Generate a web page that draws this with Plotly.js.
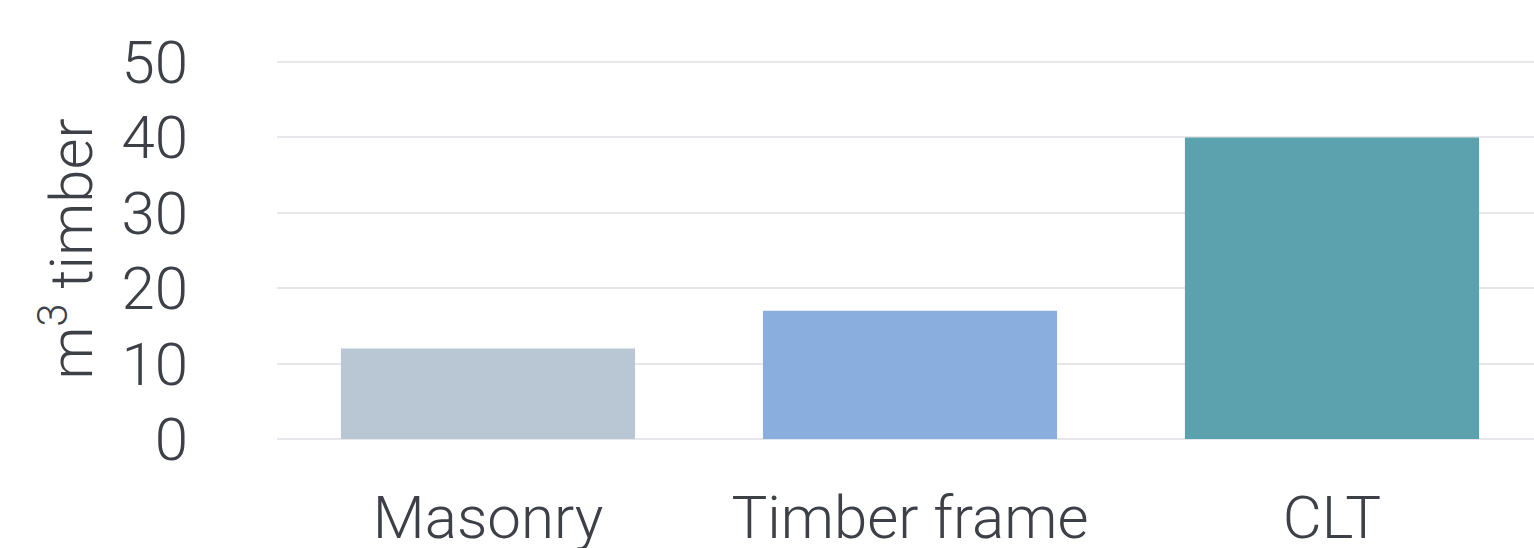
<!DOCTYPE html>
<html>
<head>
<meta charset="utf-8">
<script src="https://cdn.plot.ly/plotly-3.0.1.min.js"></script>
<style>html,body{margin:0;padding:0;background:#fff;}#chart{width:1534px;height:548px;}</style>
</head>
<body>
<div id="chart"></div>
<script>
const categories = ["Masonry", "Timber frame", "CLT"];
const values = [12, 17, 40];
const barColors = ["#b9c6d3", "#8aaedd", "#5ba2ae"];
const yTicks = [0, 10, 20, 30, 40, 50];
const yTitle = "m<sup>3</sup> timber";

const FONT = "Roboto, sans-serif";
const TXT = "#3d4047";

Plotly.newPlot("chart", [{
  type: "bar",
  x: categories,
  y: values,
  marker: {color: barColors, line: {width: 0}},
  hoverinfo: "x+y"
}], {
  width: 1534, height: 548,
  margin: {l: 277, r: 0, t: 59, b: 109, pad: 0},
  paper_bgcolor: "#fff", plot_bgcolor: "#fff",
  bargap: 0.303,
  showlegend: false,
  font: {family: FONT, color: TXT, size: 60, weight: 300},
  xaxis: {
    range: [-0.5, 2.4787],
    showgrid: false, zeroline: false, showline: false,
    ticks: "", ticklabelstandoff: 38,
    tickfont: {family: FONT, size: 60, color: TXT, weight: 300},
    automargin: false
  },
  yaxis: {
    range: [0, 50.4],
    tickvals: yTicks,
    ticktext: yTicks.map(String),
    showgrid: true, gridcolor: "#e6e7ea", gridwidth: 2,
    zeroline: true, zerolinecolor: "#e6e7ea", zerolinewidth: 2,
    showline: false, ticks: "", ticklabelstandoff: 88,
    tickfont: {family: FONT, size: 60, color: TXT, weight: 300},
    title: {text: yTitle, standoff: 9, font: {family: FONT, size: 60, color: TXT, weight: 300}},
    automargin: false
  }
}, {displayModeBar: false, staticPlot: true});
</script>
</body>
</html>
